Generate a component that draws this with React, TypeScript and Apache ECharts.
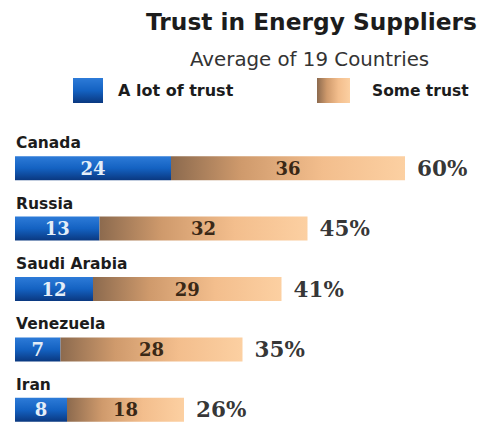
import React, { useEffect, useRef } from "react";
import * as echarts from "echarts";

const countries = ["Canada", "Russia", "Saudi Arabia", "Venezuela", "Iran"];
const aLotOfTrust = [24, 13, 12, 7, 8];
const someTrust = [36, 32, 29, 28, 18];
const totals = [60, 45, 41, 35, 26];

const blueGrad = new echarts.graphic.LinearGradient(0, 0, 0, 1, [
  { offset: 0, color: "#2d7bd8" },
  { offset: 0.5, color: "#1462c2" },
  { offset: 1, color: "#0a3880" },
]);
const tanGrad = new echarts.graphic.LinearGradient(0, 0, 1, 0, [
  { offset: 0, color: "#8c6a4e" },
  { offset: 0.3, color: "#cf9a6c" },
  { offset: 0.65, color: "#f3be8d" },
  { offset: 1, color: "#fcd0a2" },
]);

const sans = "DejaVu Sans";
const serif = "DejaVu Serif";

export default function App() {
  const ref = useRef<HTMLDivElement>(null);
  useEffect(() => {
    if (!ref.current) return;
    const chart = echarts.init(ref.current, undefined, { renderer: "svg" });
    chart.setOption({
      animation: false,
      backgroundColor: "#ffffff",
      title: [
        {
          text: "Trust in Energy Suppliers",
          left: 146,
          top: 10,
          padding: 0,
          textStyle: { fontFamily: sans, fontWeight: "bold", fontSize: 23.3, color: "#1c1c1c" },
        },
        {
          text: "Average of 19 Countries",
          left: 190,
          top: 49,
          padding: 0,
          textStyle: { fontFamily: sans, fontWeight: "normal", fontSize: 19.8, color: "#333333" },
        },
      ],
      legend: [
        {
          data: ["A lot of trust"],
          left: 73,
          top: 78,
          padding: 0,
          itemWidth: 30,
          itemHeight: 25,
          icon: "rect",
          selectedMode: false,
          textStyle: { fontFamily: sans, fontWeight: "bold", fontSize: 16, color: "#1c1c1c", padding: [3, 0, 0, 10] },
        },
        {
          data: ["Some trust"],
          left: 317,
          top: 78,
          padding: 0,
          itemWidth: 33,
          itemHeight: 25,
          icon: "rect",
          selectedMode: false,
          textStyle: { fontFamily: sans, fontWeight: "bold", fontSize: 15.5, color: "#1c1c1c", padding: [3, 0, 0, 17] },
        },
      ],
      grid: { left: 15, top: 138, width: 390, height: 302 },
      xAxis: { type: "value", min: 0, max: 60, show: false },
      yAxis: {
        type: "category",
        inverse: true,
        data: countries,
        axisLine: { show: false },
        axisTick: { show: false },
        splitLine: { show: false },
        axisLabel: {
          inside: true,
          margin: 1,
          align: "left",
          verticalAlign: "bottom",
          lineHeight: 16,
          padding: [0, 0, 17, 0],
          fontFamily: sans,
          fontWeight: "bold",
          fontSize: 15.5,
          color: "#1c1c1c",
        },
      },
      series: [
        {
          name: "A lot of trust",
          type: "bar",
          stack: "t",
          barWidth: 24,
          data: aLotOfTrust,
          itemStyle: { color: blueGrad },
          label: {
            show: true,
            position: "inside",
            fontFamily: serif,
            fontWeight: "bold",
            fontSize: 18,
            color: "#e4eef8",
          },
        },
        {
          name: "Some trust",
          type: "bar",
          stack: "t",
          barWidth: 24,
          data: someTrust,
          itemStyle: { color: tanGrad },
          label: {
            show: true,
            position: "inside",
            fontFamily: serif,
            fontWeight: "bold",
            fontSize: 18,
            color: "#3a2816",
          },
        },
        {
          name: "Total",
          type: "scatter",
          symbolSize: 0,
          silent: true,
          data: totals.map((t, i) => [t, i]),
          itemStyle: { color: "transparent" },
          label: {
            show: true,
            position: "right",
            distance: 12,
            formatter: (p: any) => p.value[0] + "%",
            fontFamily: serif,
            fontWeight: "bold",
            fontSize: 21.5,
            color: "#000000",
          },
        },
      ],
    });
    return () => chart.dispose();
  }, []);
  return (
    <div
      ref={ref}
      style={{ position: "fixed", left: 0, top: 0, width: 483, height: 445 }}
    />
  );
}
